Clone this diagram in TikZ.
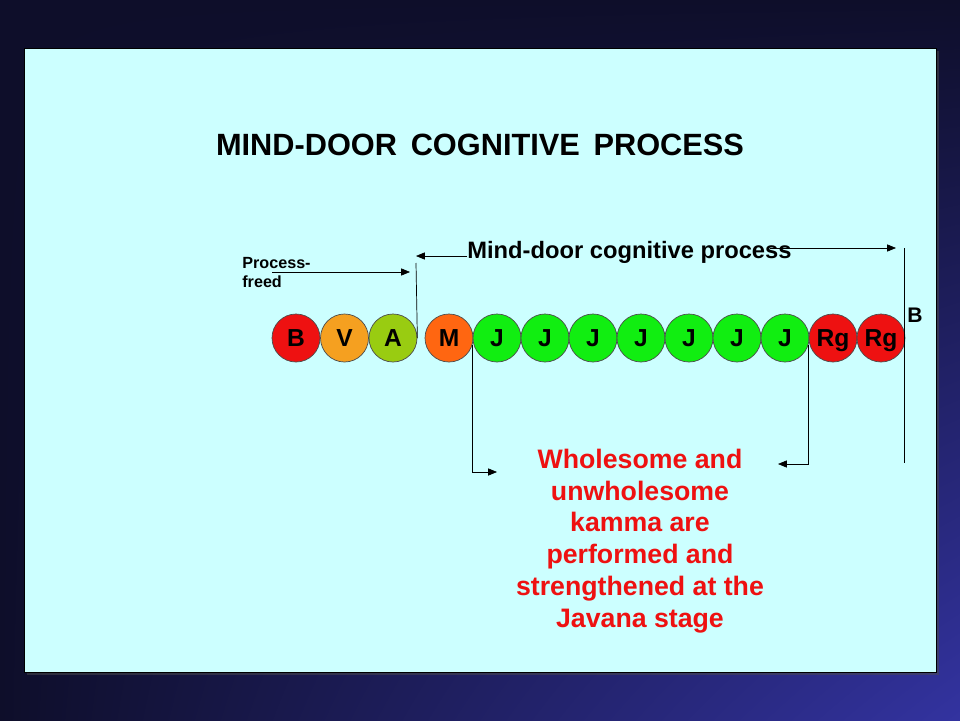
\documentclass[tikz,border=0pt]{standalone}
\usepackage{fontspec}
\setmainfont{Liberation Sans}
\usetikzlibrary{arrows.meta,shadings}

\definecolor{slidedark}{HTML}{0E0E2A}
\definecolor{slideblue}{HTML}{3333A0}
\definecolor{panelcyan}{HTML}{CCFFFF}
\definecolor{seqred}{HTML}{EE1111}
\definecolor{seqamber}{HTML}{F5A020}
\definecolor{seqlime}{HTML}{99CC11}
\definecolor{seqorange}{HTML}{FF6611}
\definecolor{seqgreen}{HTML}{11EE11}
\definecolor{notered}{HTML}{EE1111}

\begin{document}
\begin{tikzpicture}[x=0.02cm, y=-0.02cm, >={Triangle[length=5pt,width=4pt]}]

\tikzset{%
    seqdot/.style={circle, draw=black!70, thin, minimum size=0.96cm, inner sep=0pt,
        text height=10pt, text depth=0pt, font=\bfseries\fontsize{14}{14}\selectfont},
    guide/.style={draw=black, thin},
    smalllabel/.style={font=\bfseries\fontsize{9.2}{10.8}\selectfont, align=left, inner sep=0pt}
}

\useasboundingbox (0,0) rectangle (960,720);
\shade[upper left=slidedark, upper right=slidedark, lower left=slidedark, lower right=slideblue]
    (0,0) rectangle (960,720);
\fill[black!70, opacity=0.5] (27,51) rectangle (939,675);
\draw[fill=panelcyan, draw=black, thin] (24,48) rectangle (936,672);

\node[font=\bfseries\fontsize{17.5}{20}\selectfont] (title) at (480,145) {MIND-DOOR\, COGNITIVE\, PROCESS};

% the sequence of thought moments
\foreach \x/\lbl/\col [count=\i] in {296/B/seqred, 344.5/V/seqamber, 393/A/seqlime, 449/M/seqorange,
        497/J/seqgreen, 545/J/seqgreen, 593/J/seqgreen, 641/J/seqgreen, 689/J/seqgreen,
        737/J/seqgreen, 785/J/seqgreen, 833/Rg/seqred, 881/Rg/seqred} {
    \node[seqdot, fill=\col] (c\i) at (\x,338) {\lbl};
}

\node[smalllabel, anchor=north west] (freed) at (242,257) {Process-\\freed};
\coordinate (freedstart) at (272,272);
\coordinate (freedend) at (410,272);
\draw[guide, ->] (freedstart) -- (freedend);

\node[font=\bfseries\fontsize{13.5}{14}\selectfont, anchor=west, inner sep=0pt] (mindlbl) at (467,252) {Mind-door cognitive process};
\coordinate (leftmark) at (416,256);
\coordinate (righttop) at (904,248);
\coordinate (rightbot) at (904,463);
\draw[guide] (c3.east) -- (leftmark |- 0,263);
\draw[guide, ->] (mindlbl.west |- leftmark) -- (leftmark);
\draw[guide, ->] (770,248) -- ++(126,0);
\draw[guide] (righttop) -- (rightbot);
\node[font=\bfseries\fontsize{12}{14}\selectfont, anchor=west, inner sep=0pt] (bend) at (907,315) {B};

\node[font=\bfseries\fontsize{15.2}{18.1}\selectfont, text=notered, align=center] (javana) at (640,541)
    {Wholesome and\\unwholesome\\kamma are\\performed and\\strengthened at the\\Javana stage};

\coordinate (javleft) at (497,472);
\coordinate (javright) at (778,464);
\draw[guide, ->] (c4.-16) |- (javleft);
\draw[guide, ->] (c11.-16) |- (javright);

\end{tikzpicture}
\end{document}
